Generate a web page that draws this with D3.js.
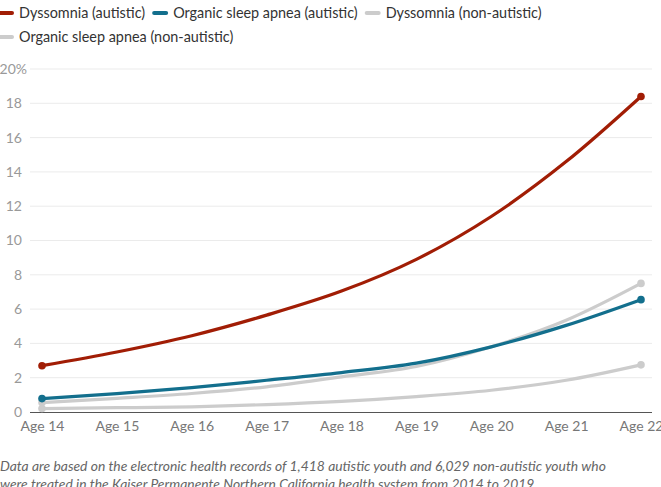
<!DOCTYPE html>
<head>
  <meta charset="utf-8">
  <script src="https://d3js.org/d3.v7.min.js"></script>
  <style>
    body { margin: 0; font-family: Lato, sans-serif; background: #fff; }
    text { font-family: Lato, sans-serif; }
    .grid line { stroke: #ebebeb; stroke-width: 1; }
    .y.axis text { fill: #999; font-size: 14px; }
    .x.axis text { fill: #777; font-size: 14px; }
    .legend text { fill: #333; font-size: 14.4px; }
    .note { fill: #666; font-size: 13.9px; font-style: italic; }
  </style>
</head>
<body>
<script>
  var ages = ["Age 14", "Age 15", "Age 16", "Age 17", "Age 18", "Age 19", "Age 20", "Age 21", "Age 22"];
  var yTicks = [0, 2, 4, 6, 8, 10, 12, 14, 16, 18, 20];

  var dyssomniaAutistic    = [2.7, 3.5, 4.45, 5.65, 7.05, 8.9, 11.4, 14.6, 18.4];
  var apneaAutistic        = [0.78, 1.07, 1.42, 1.85, 2.3, 2.85, 3.8, 5.05, 6.55];
  var dyssomniaNonAutistic = [0.55, 0.8, 1.08, 1.47, 2.05, 2.65, 3.8, 5.35, 7.5];
  var apneaNonAutistic     = [0.2, 0.25, 0.3, 0.43, 0.62, 0.9, 1.27, 1.85, 2.75];

  var seriesNames = ["Dyssomnia (autistic)", "Organic sleep apnea (autistic)",
                     "Dyssomnia (non-autistic)", "Organic sleep apnea (non-autistic)"];
  var seriesColors = ["#a11d05", "#136f8d", "#cccccc", "#cccccc"];

  var series = [dyssomniaAutistic, apneaAutistic, dyssomniaNonAutistic, apneaNonAutistic]
    .map(function (vals, i) {
      return { name: seriesNames[i], color: seriesColors[i],
               values: vals.map(function (v, j) { return { age: ages[j], value: v }; }) };
    });

  var width = 661, height = 487;
  var gridLeft = 30, gridRight = 652;

  var svg = d3.select("body").append("svg")
      .attr("width", width)
      .attr("height", height);

  var x = d3.scalePoint().domain(ages).range([42, 641]);
  var y = d3.scaleLinear().domain([0, 20]).range([412, 69]);

  // gridlines
  svg.append("g").attr("class", "grid")
    .selectAll("line")
    .data(yTicks.filter(function (d) { return d > 0; }))
    .enter().append("line")
      .attr("x1", gridLeft).attr("x2", gridRight)
      .attr("y1", function (d) { return y(d); })
      .attr("y2", function (d) { return y(d); });

  // y axis labels
  var yAxis = d3.axisLeft(y).tickValues(yTicks).tickSize(0).tickPadding(0)
      .tickFormat(function (d) { return d === 20 ? "20%" : d; });
  var gy = svg.append("g").attr("class", "y axis")
      .attr("transform", "translate(22,0)")
      .call(yAxis);
  gy.select(".domain").remove();
  gy.selectAll("text").attr("dy", "0.32em")
    .filter(function (d) { return d === 20; }).attr("dx", "5");

  // x axis
  var xAxis = d3.axisBottom(x).tickSize(0).tickPadding(9);
  var gx = svg.append("g").attr("class", "x axis")
      .attr("transform", "translate(0,412)")
      .call(xAxis);
  gx.select(".domain").remove();
  svg.append("line")
      .attr("x1", gridLeft).attr("x2", gridRight)
      .attr("y1", 412.5).attr("y2", 412.5)
      .attr("stroke", "#555").attr("stroke-width", 1);

  // lines
  var line = d3.line()
      .x(function (d) { return x(d.age); })
      .y(function (d) { return y(d.value); })
      .curve(d3.curveMonotoneX);

  var drawOrder = [3, 2, 1, 0];
  drawOrder.forEach(function (i) {
    var s = series[i];
    var g = svg.append("g");
    g.append("path")
      .datum(s.values)
      .attr("fill", "none")
      .attr("stroke", s.color)
      .attr("stroke-width", 3.2)
      .attr("stroke-linecap", "round")
      .attr("d", line);
    g.selectAll("circle")
      .data([s.values[0], s.values[s.values.length - 1]])
      .enter().append("circle")
        .attr("cx", function (d) { return x(d.age); })
        .attr("cy", function (d) { return y(d.value); })
        .attr("r", 3.8)
        .attr("fill", s.color);
  });

  // legend, laid out as a wrapping row
  var legend = svg.append("g").attr("class", "legend");
  var lx = 0, ly = 13, maxW = 600;
  series.forEach(function (s) {
    var g = legend.append("g");
    g.append("line")
      .attr("x1", 0).attr("x2", 12)
      .attr("y1", 0).attr("y2", 0)
      .attr("stroke", s.color).attr("stroke-width", 4)
      .attr("stroke-linecap", "round");
    var t = g.append("text")
      .attr("x", 19).attr("dy", "0.35em")
      .text(s.name);
    var w = 19 + t.node().getComputedTextLength();
    if (lx > 0 && lx + w > maxW) { lx = 0; ly += 24; }
    g.attr("transform", "translate(" + lx + "," + ly + ")");
    lx += w + 9;
  });

  // note
  var noteLines = [
    "Data are based on the electronic health records of 1,418 autistic youth and 6,029 non-autistic youth who",
    "were treated in the Kaiser Permanente Northern California health system from 2014 to 2019."
  ];
  svg.selectAll(".note")
    .data(noteLines)
    .enter().append("text")
      .attr("class", "note")
      .attr("x", 0)
      .attr("y", function (d, i) { return 471 + i * 18; })
      .text(function (d) { return d; });
</script>
</body>
